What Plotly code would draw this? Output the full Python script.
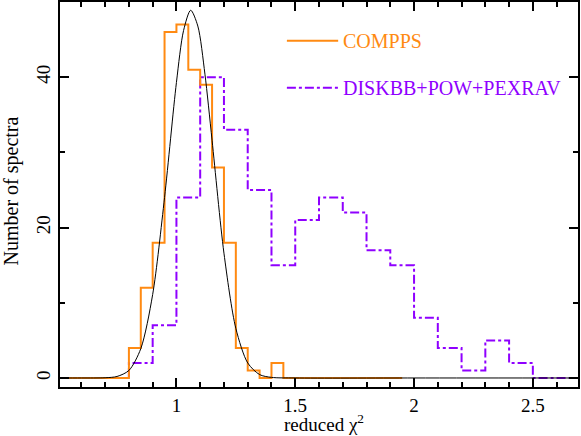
import plotly.graph_objects as go

# COMPPS histogram: left bin edges (width 0.05) and counts
compps_left = [0.50, 0.55, 0.60, 0.65, 0.70, 0.75, 0.80, 0.85, 0.90, 0.95,
               1.00, 1.05, 1.10, 1.15, 1.20, 1.25, 1.30, 1.35, 1.40, 1.45,
               1.50, 1.55, 1.60, 1.65, 1.70, 1.75, 1.80, 1.85, 1.90, 1.95]
compps_counts = [0, 0, 0, 0, 0, 0, 4, 12, 18, 46,
                 47, 41, 39, 28, 18, 4, 1, 0, 2, 0,
                 0, 0, 0, 0, 0, 0, 0, 0, 0, 0]

# DISKBB+POW+PEXRAV histogram: left bin edges (width 0.1) and counts
disk_left = [0.5, 0.6, 0.7, 0.8, 0.9, 1.0, 1.1, 1.2, 1.3, 1.4, 1.5,
             1.6, 1.7, 1.8, 1.9, 2.0, 2.1, 2.2, 2.3, 2.4, 2.5, 2.6, 2.7]
disk_counts = [0, 0, 0, 2, 7, 24, 40, 33, 25, 15, 21,
               24, 22, 17, 15, 8, 4, 1, 5, 2, 0, 0, 0]

# fitted curve, points
fit_x = [0.50, 0.60, 0.70, 0.75, 0.80, 0.85, 0.90, 0.95, 1.00, 1.03,
         1.06, 1.09, 1.12, 1.15, 1.20, 1.25, 1.30, 1.35, 1.40, 1.50, 2.00, 2.70]
fit_y = [0.0, 0.0, 0.03, 0.2, 1.0, 3.9, 11.1, 24.0, 39.3, 46.2,
         48.9, 46.8, 40.4, 31.6, 16.6, 6.6, 2.0, 0.45, 0.08, 0.0, 0.0, 0.0]

x_ticks = [1, 1.5, 2, 2.5]
x_ticklabels = ["1", "1.5", "2", "2.5"]
y_ticks = [0, 20, 40]

ORANGE = "#ff8a12"
PURPLE = "#8f00ff"
FONT = "Liberation Serif"

fig = go.Figure()

fig.add_trace(go.Scatter(
    x=disk_left, y=disk_counts, mode="lines", line_shape="hv",
    line=dict(color=PURPLE, width=2, dash="dashdot"),
    name="DISKBB+POW+PEXRAV", showlegend=False, hoverinfo="skip",
))
fig.add_trace(go.Scatter(
    x=compps_left, y=compps_counts, mode="lines", line_shape="hv",
    line=dict(color=ORANGE, width=2),
    name="COMPPS", showlegend=False, hoverinfo="skip",
))
fig.add_trace(go.Scatter(
    x=fit_x, y=fit_y, mode="lines", line_shape="spline",
    line=dict(color="black", width=1, smoothing=0.8),
    showlegend=False, hoverinfo="skip",
))

# Legend drawn by hand to match the original placement
legend_items = [("COMPPS", ORANGE, "solid", 0.8995),
                ("DISKBB+POW+PEXRAV", PURPLE, "dashdot", 0.777)]
for label, color, dash, ypos in legend_items:
    fig.add_shape(type="line", xref="paper", yref="paper",
                  x0=0.438, x1=0.537, y0=ypos, y1=ypos,
                  line=dict(color=color, width=2, dash=dash))
    fig.add_annotation(xref="paper", yref="paper", x=0.542, y=ypos,
                       text=label, showarrow=False, xanchor="left",
                       yanchor="middle", font=dict(family=FONT, size=20, color=color))

# axis titles as annotations so the margins stay fixed
fig.add_annotation(xref="paper", yref="paper", x=0.51, y=-0.094,
                   text="reduced χ<sup>2</sup>", showarrow=False,
                   xanchor="center", yanchor="middle", borderpad=0,
                   font=dict(family=FONT, size=19, color="black"))
fig.add_annotation(xref="paper", yref="paper", x=-0.093, y=0.51,
                   text="Number of spectra", showarrow=False, textangle=-90,
                   xanchor="center", yanchor="middle", borderpad=0,
                   font=dict(family=FONT, size=20, color="black"))

axis_common = dict(
    showline=True, linecolor="black", linewidth=2, mirror="allticks",
    ticks="inside", ticklen=9, tickwidth=1.5, tickcolor="black",
    showgrid=False, zeroline=False, automargin=False,
    tickfont=dict(family=FONT, size=19, color="black"),
)

fig.update_xaxes(
    **axis_common, range=[0.51, 2.69],
    tickvals=x_ticks, ticktext=x_ticklabels,
    minor=dict(dtick=0.1, tick0=0, ticks="inside", ticklen=5,
               tickwidth=1.5, tickcolor="black"),
)
fig.update_yaxes(
    **axis_common, range=[-1.2, 50],
    tickvals=y_ticks, tickangle=-90,
    minor=dict(dtick=10, tick0=0, ticks="inside", ticklen=5,
               tickwidth=1.5, tickcolor="black"),
)

fig.update_layout(
    width=581, height=436,
    margin=dict(l=60, r=3, t=2, b=49),
    plot_bgcolor="white", paper_bgcolor="white",
)

# drop the default page margin so the figure sits at the window's top-left
fig.write_html("out.html", config={"displayModeBar": False},
               post_script="document.body.style.margin='0px';")
